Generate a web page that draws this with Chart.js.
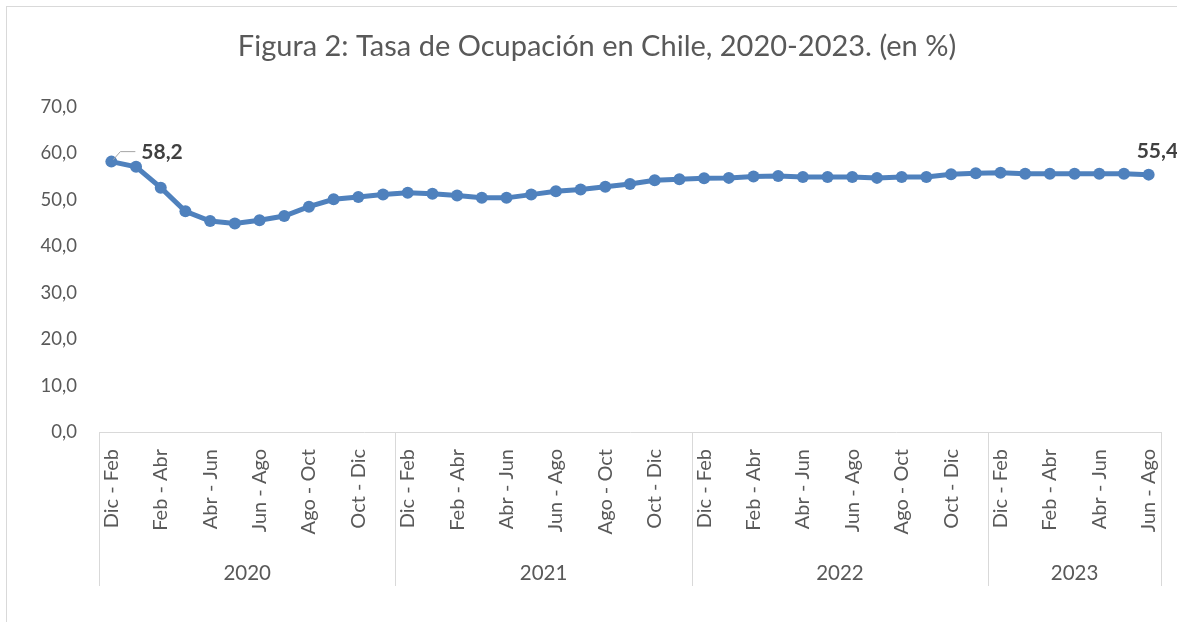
<!DOCTYPE html>
<html>
<head>
<meta charset="utf-8">
<script src="https://cdn.jsdelivr.net/npm/chart.js@4"></script>
<style>
  html, body { margin: 0; padding: 0; background: #fff; }
  #wrap { position: relative; width: 1177px; height: 622px; }
  #frame { position: absolute; left: 6px; top: 6px; right: 0; bottom: 0;
           border-top: 1px solid #d9d9d9; border-left: 1px solid #d9d9d9; }
  canvas { position: absolute; left: 0; top: 0; }
</style>
</head>
<body>
<div id="wrap">
  <div id="frame"></div>
  <canvas id="ocupacionChart" width="1177" height="622"></canvas>
</div>
<script>
// Periodos (trimestres móviles) y años
const periods = ['Dic - Feb', 'Ene - Mar', 'Feb - Abr', 'Mar - May', 'Abr - Jun', 'May - Jul',
                 'Jun - Ago', 'Jul - Sep', 'Ago - Oct', 'Sep - Nov', 'Oct - Dic', 'Nov - Ene'];
const years = ['2020', '2021', '2022', '2023'];
const periodsPerYear = [12, 12, 12, 7];

// Tasa de ocupación (%)
const tasa2020 = [58.2, 57.1, 52.6, 47.5, 45.4, 44.9, 45.6, 46.5, 48.5, 50.1, 50.6, 51.1];
const tasa2021 = [51.5, 51.3, 50.9, 50.4, 50.4, 51.1, 51.8, 52.2, 52.8, 53.4, 54.2, 54.4];
const tasa2022 = [54.6, 54.7, 55.0, 55.1, 54.9, 54.9, 54.9, 54.7, 54.9, 54.9, 55.5, 55.7];
const tasa2023 = [55.8, 55.6, 55.6, 55.6, 55.6, 55.6, 55.4];

const yTicks = [0, 10, 20, 30, 40, 50, 60, 70];

// Build the flat category list
const categories = [];
periodsPerYear.forEach((n) => {
    for (let i = 0; i < n; i++) categories.push(periods[i]);
});
const values = [].concat(tasa2020, tasa2021, tasa2022, tasa2023);

const fontFamily = 'Lato, "Open Sans", sans-serif';
const grey = '#595959';
const lineColor = '#4F81BD';
const fmt = (v) => v.toFixed(1).replace('.', ',');

// Year group labels and separators under the x axis
const yearGroups = {
    id: 'yearGroups',
    afterDraw(chart) {
        const ctx = chart.ctx;
        const x = chart.scales.x;
        const half = (x.getPixelForValue(1) - x.getPixelForValue(0)) / 2;
        const top = chart.chartArea.bottom;
        const bottom = 586;
        ctx.save();
        ctx.strokeStyle = '#d9d9d9';
        ctx.lineWidth = 1;
        let start = 0;
        periodsPerYear.forEach((n, i) => {
            const left = x.getPixelForValue(start) - half;
            const right = x.getPixelForValue(start + n - 1) + half;
            ctx.beginPath();
            ctx.moveTo(Math.round(left) + 0.5, top);
            ctx.lineTo(Math.round(left) + 0.5, bottom);
            ctx.stroke();
            if (i === periodsPerYear.length - 1) {
                ctx.beginPath();
                ctx.moveTo(Math.round(right) + 0.5, top);
                ctx.lineTo(Math.round(right) + 0.5, bottom);
                ctx.stroke();
            }
            ctx.fillStyle = grey;
            ctx.font = '20.5px ' + fontFamily;
            ctx.textAlign = 'center';
            ctx.textBaseline = 'middle';
            ctx.fillText(years[i], (left + right) / 2, 573);
            start += n;
        });
        ctx.restore();
    }
};

// Labels for first and last value
const endLabels = {
    id: 'endLabels',
    afterDatasetsDraw(chart) {
        const ctx = chart.ctx;
        const pts = chart.getDatasetMeta(0).data;
        const first = pts[0];
        const last = pts[pts.length - 1];
        ctx.save();
        ctx.strokeStyle = '#a6a6a6';
        ctx.lineWidth = 1;
        ctx.beginPath();
        ctx.moveTo(first.x + 2, first.y - 2);
        ctx.lineTo(first.x + 9, first.y - 10);
        ctx.lineTo(first.x + 24, first.y - 10);
        ctx.stroke();
        ctx.fillStyle = '#404040';
        ctx.font = 'bold 21px ' + fontFamily;
        ctx.textBaseline = 'middle';
        ctx.textAlign = 'left';
        ctx.fillText(fmt(values[0]), first.x + 30, first.y - 9);
        ctx.fillText(fmt(values[values.length - 1]), last.x - 12, last.y - 23);
        ctx.restore();
    }
};

const ctx = document.getElementById('ocupacionChart').getContext('2d');
new Chart(ctx, {
    type: 'line',
    data: {
        labels: categories,
        datasets: [{
            data: values,
            borderColor: lineColor,
            backgroundColor: lineColor,
            borderWidth: 5,
            pointRadius: 6,
            pointHoverRadius: 6,
            pointBackgroundColor: lineColor,
            pointBorderWidth: 0,
            tension: 0
        }]
    },
    options: {
        responsive: false,
        animation: false,
        layout: { padding: { left: 33, right: 16, top: 0, bottom: 0 } },
        plugins: {
            legend: { display: false },
            tooltip: { enabled: false },
            title: {
                display: true,
                text: 'Figura 2: Tasa de Ocupación en Chile, 2020-2023. (en %)',
                color: grey,
                font: { family: fontFamily, size: 29, weight: 'normal', lineHeight: 1.2 },
                padding: { top: 29, bottom: 43 }
            }
        },
        scales: {
            x: {
                offset: true,
                grid: { display: false, drawTicks: false },
                border: { display: true, color: '#d9d9d9', width: 1 },
                ticks: {
                    autoSkip: false,
                    minRotation: 90,
                    maxRotation: 90,
                    padding: 17,
                    color: grey,
                    font: { family: fontFamily, size: 20 },
                    callback: function (val, i) {
                        return i % 2 === 0 ? this.getLabelForValue(val) : '';
                    }
                },
                afterFit: (scale) => {
                    scale.height = 190;
                    scale.paddingLeft = 0;
                    scale.paddingRight = 0;
                }
            },
            y: {
                min: yTicks[0],
                max: yTicks[yTicks.length - 1],
                grid: { display: false, drawTicks: false },
                border: { display: false },
                afterBuildTicks: (scale) => { scale.ticks = yTicks.map((v) => ({ value: v })); },
                ticks: {
                    padding: 22,
                    color: grey,
                    font: { family: fontFamily, size: 18.5 },
                    callback: (v) => fmt(v)
                },
                afterFit: (scale) => { scale.width = 66; }
            }
        }
    },
    plugins: [yearGroups, endLabels]
});
</script>
</body>
</html>
